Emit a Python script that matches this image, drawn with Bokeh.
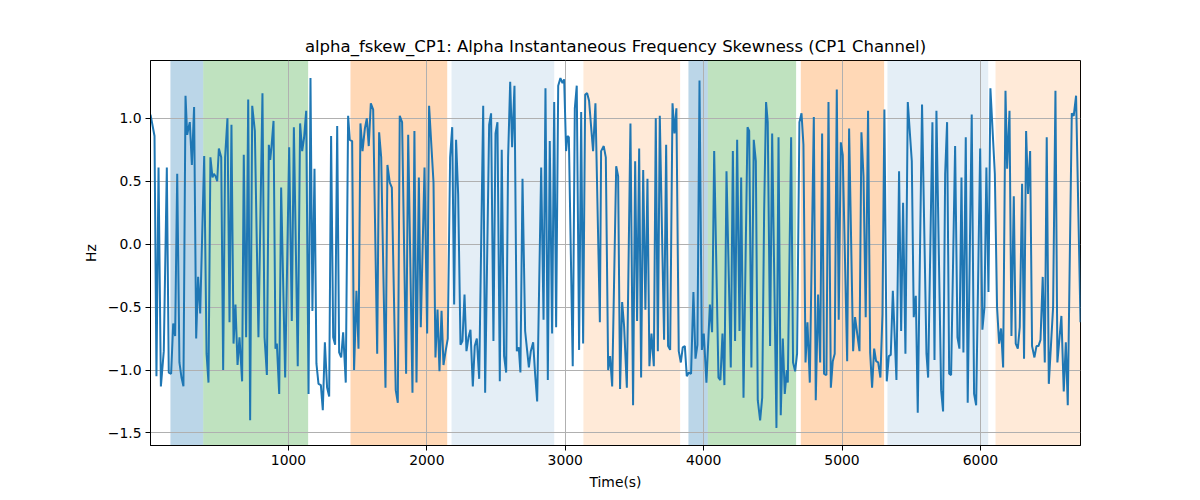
from bokeh.plotting import figure
from bokeh.models import ColumnDataSource, SingleIntervalTicker, CustomJSTickFormatter, Range1d
from bokeh.embed import file_html
from bokeh.resources import INLINE

TITLE = "alpha_fskew_CP1: Alpha Instantaneous Frequency Skewness (CP1 Channel)"
X_LABEL = "Time(s)"
Y_LABEL = "Hz"

time_s = [
    3, 32, 46, 61, 78, 99, 121, 135, 152, 167, 181, 196, 212, 227, 241, 256, 268, 277, 287, 302,
    318, 333, 347, 362, 391, 408, 422, 436, 451, 461, 473, 485, 497, 514, 528, 542, 559, 574, 588, 603,
    617, 632, 646, 665, 677,
    694, 709, 723, 738, 757, 783, 812, 827, 844, 858, 868, 877, 892, 906, 916, 933, 947, 976, 1005, 1024,
    1039, 1067, 1084, 1099, 1113, 1128, 1145, 1159, 1173, 1188, 1202, 1217, 1234, 1248, 1263, 1279, 1294, 1308, 1323, 1337,
    1352,
    1366, 1381, 1395, 1414, 1431, 1443, 1460, 1474, 1491, 1506, 1520, 1535, 1552, 1566, 1580, 1595, 1612, 1641, 1655, 1670,
    1701, 1715, 1732, 1747, 1775, 1790, 1804, 1821, 1850, 1865, 1896, 1910, 1925, 1942, 1956, 1983, 2002, 2016,
    2048, 2062, 2077, 2091, 2106, 2120, 2134, 2151, 2168, 2183, 2197, 2211, 2226, 2243, 2257, 2272, 2286, 2301, 2315, 2332,
    2346, 2361, 2378, 2407, 2421, 2450, 2464, 2481, 2496, 2510, 2527, 2541, 2558, 2573, 2587, 2602, 2616, 2633, 2650, 2664,
    2676, 2691,
    2710, 2725, 2737, 2751, 2768, 2782, 2797, 2826, 2843, 2857, 2874, 2888, 2905, 2920, 2934, 2949, 2965, 2980, 2992, 3006,
    3016, 3026, 3054, 3069, 3083, 3100, 3115, 3129, 3144, 3158, 3172, 3187, 3201, 3218, 3250, 3259, 3278, 3293, 3310, 3324,
    3339, 3368,
    3382, 3396, 3411, 3425, 3445, 3471, 3490, 3505, 3519, 3534, 3548, 3563, 3579, 3594, 3608, 3623, 3640, 3654, 3669, 3683,
    3714, 3729, 3743, 3758, 3775, 3789, 3803, 3820, 3835, 3849, 3864, 3878, 3893, 3909, 3926, 3941, 3955, 3970, 3987, 4001,
    4020, 4045,
    4061, 4076, 4107, 4121, 4136, 4150, 4165, 4196, 4211, 4227, 4242, 4259, 4271, 4288, 4317, 4329, 4345, 4362, 4377, 4391,
    4408, 4423, 4437, 4451, 4463, 4480, 4495, 4526, 4541, 4557, 4572, 4586, 4601, 4608, 4632, 4646, 4661, 4675, 4692, 4707,
    4721, 4736, 4750, 4767, 4796, 4810, 4827, 4842, 4856, 4870, 4887, 4902, 4919, 4933, 4947, 4962, 4976, 4991, 5005, 5037,
    5051, 5080, 5094, 5126, 5140, 5155, 5171, 5188, 5203, 5217, 5232, 5246, 5261, 5277, 5292, 5306, 5323, 5338, 5352, 5367,
    5393,
    5412, 5427, 5441, 5458, 5475, 5504, 5518, 5533, 5547, 5578, 5610, 5622, 5653, 5668, 5682, 5716, 5730, 5745, 5759, 5774,
    5788, 5817, 5834, 5848, 5863, 5877, 5894, 5908, 5937, 5954, 5969, 5998, 6014, 6029, 6043, 6058,
    6072, 6104, 6120, 6135, 6149, 6164, 6181, 6193, 6210, 6224, 6241, 6255, 6270, 6284, 6301, 6315, 6330, 6344, 6359, 6373,
    6390, 6405, 6419, 6434, 6450, 6465, 6479, 6494, 6525, 6542, 6556, 6585, 6602, 6617, 6631, 6660, 6674, 6691, 6723,
]

skew_hz = [
    1.03, 0.86, -1.05, 0.61, -1.13, -0.85, 0.61, -1.02, -1.03, -0.63, -0.73, 0.56, -0.94, -1.06, -1.13, 1.18, 0.87, 0.92, 0.97, 0.63,
    1.09, -0.75, -0.26, -0.55, 0.70, -0.87, -1.10, 0.69, 0.53, 0.56, 0.54, 0.50, 0.76, 0.69, -1.00, 0.69, 1.00, -0.62, 0.95, -0.79,
    -0.48, -0.96, -0.74, -1.09, 0.71,
    -0.74, 1.15, -1.40, 1.10, 0.90, -0.74, 1.20, -0.74, -1.04, 0.79, 0.67, 0.77, 0.98, -0.83, -0.79, -1.19, 0.45, -1.06, 0.77, -0.61,
    0.93, -0.97, 0.96, 0.74, 0.85, 1.06, -1.19, 1.32, -0.53, 0.60, -0.95, -1.11, -1.12, -1.32, -0.78, -1.14, -1.21, 0.86, -0.74, -0.80,
    0.94,
    -0.86, -0.90, -0.70, -1.10, 1.02, 0.83, 0.82, -1.00, -0.37, -0.83, 0.96, 0.74, 0.92, 1.00, 0.78, 1.12, 1.07, -0.87, 0.89, 0.69,
    -1.14, 0.63, 0.49, 0.45, -1.16, -1.26, 1.02, 0.97, -1.03, 0.87, -1.18, 0.90, -1.10, 0.53, -0.66, 0.61, -0.71, 1.10,
    0.49, -0.90, -0.52, -1.01, -0.53, -0.96, -0.86, -0.75, 0.69, 0.93, -0.48, 0.83, 0.40, -0.80, -0.77, -0.40, -0.85, -0.74, -0.68, -1.13,
    -0.81, -0.75, -1.07, 1.10, -1.18, 0.95, 1.04, -0.77, 0.88, 0.97, -1.09, 0.75, -0.89, -1.02, 0.69, 1.29, 0.77, 1.26, -0.85, -0.82,
    -1.02, 0.52,
    -0.69, -0.85, -0.98, -0.85, -0.78, -1.03, -1.25, 0.61, -0.60, 1.24, -1.08, 0.82, -0.71, 1.13, -0.66, 1.26, 1.32, 1.28, 1.31, 0.74,
    0.86, 0.85, -0.97, 1.08, 1.26, -0.84, 1.05, -0.79, 1.19, 1.20, 1.14, 0.93, 0.74, 1.12, -0.62, 0.74, 0.78, 0.69, -1.00, -0.89,
    -1.13, 0.62,
    0.54, -1.15, -0.46, -0.65, -1.14, 0.96, -1.28, 0.66, -0.61, 0.76, -1.06, 0.59, -0.52, 0.52, -0.97, -0.71, -0.97, 1.00, -0.85, 1.02,
    -0.76, 0.79, -0.81, -0.84, 1.12, 0.88, 1.08, -0.85, -0.94, -0.82, -0.81, -1.05, -1.02, -1.03, -0.38, -0.91, -0.80, 1.30, -0.84, -0.71,
    -1.10, -0.48,
    -0.70, 0.74, -1.06, -1.08, -0.71, -1.12, 0.58, -0.98, 0.74, -0.77, 0.83, -0.69, 0.53, -1.22, 0.93, 0.90, -0.98, 0.83, 0.66, -1.24,
    -1.40, -1.22, 0.26, 1.13, 0.97, -0.81, 0.88, -1.46, 0.85, -1.36, -0.75, -1.19, -1.00, -1.10, 0.85, -0.94, -1.01, -0.87, 0.97, 1.04,
    0.79, -0.94, -0.62, -1.10, 1.01, -1.24, -0.40, -0.94, 0.88, -1.03, -1.04, 1.13, -1.14, -0.93, -0.87, 1.23, -0.60, 0.81, 0.71, -0.93,
    0.92, -0.85, -0.58, -0.85, 0.89, 0.54, -0.58, 1.06, -0.86, -1.14, -0.83, -0.93, -0.94, -1.06, -0.56, 1.07, -1.09, -0.89, -0.88, -0.37,
    -1.08,
    0.58, -0.69, 0.33, -0.87, 1.13, 0.66, -0.58, -0.41, -1.34, 1.11, -0.87, -1.06, 0.97, -0.92, 1.06, -1.16, -1.33, 0.56, 0.97, -1.03,
    -1.04, 0.78, -0.74, -0.83, 0.53, -0.86, 0.85, -1.26, 1.03, -1.19, -1.28, 0.76, -0.68, -0.50, 0.61, -0.38,
    1.24, 0.56, -0.50, -0.79, -0.67, -0.98, 1.22, 0.60, 1.06, -0.73, 0.38, -0.79, -0.83, -0.66, 0.48, -0.91, 0.90, 0.40, 0.74, -0.81,
    -0.90, -0.81, -0.81, -0.76, -0.26, -0.94, 0.85, -1.11, -0.50, 1.22, -0.94, -0.57, -1.17, -0.78, -1.28, 1.04, 1.02, 1.18, -0.62,
]

# shaded stage intervals (seconds)
band_start = [147, 384, 1448, 2178, 3131, 3890, 4030, 4702, 5328, 6109]
band_end = [384, 1142, 2147, 2920, 3830, 4030, 4668, 5304, 6056, 6723]
band_kind = ["blue", "green", "orange", "pale_blue", "pale_orange",
             "blue", "green", "orange", "pale_blue", "pale_orange"]

KIND_COLOR = {"blue": "#1f77b4", "green": "#2ca02c", "orange": "#ff7f0e",
              "pale_blue": "#1f77b4", "pale_orange": "#ff7f0e"}
KIND_ALPHA = {"blue": 0.3, "green": 0.3, "orange": 0.3,
              "pale_blue": 0.12, "pale_orange": 0.16}

Y_LO, Y_HI = -1.60, 1.46
FONT = "DejaVu Sans"

p = figure(frame_width=930, frame_height=385,
           min_border_left=150, min_border_right=104,
           min_border_top=60, min_border_bottom=45,
           x_range=Range1d(time_s[0], time_s[-1]),
           y_range=Range1d(Y_LO, Y_HI),
           output_backend="svg", toolbar_location=None,
           background_fill_color="white", border_fill_color="white")

band_src = ColumnDataSource(dict(
    left=band_start, right=band_end,
    bottom=[Y_LO] * len(band_start), top=[Y_HI] * len(band_start),
    color=[KIND_COLOR[k] for k in band_kind],
    alpha=[KIND_ALPHA[k] for k in band_kind],
))
p.quad(left="left", right="right", bottom="bottom", top="top", source=band_src,
       fill_color="color", fill_alpha="alpha", line_color=None, level="image")

line_src = ColumnDataSource(dict(t=time_s, v=skew_hz))
p.line("t", "v", source=line_src, line_color="#1f77b4", line_width=2)

# title
p.title.text = TITLE
p.title.align = "center"
p.title.text_font = FONT
p.title.text_font_size = "16.5px"
p.title.text_font_style = "normal"
p.title.text_color = "black"

# axes
p.xaxis.ticker = SingleIntervalTicker(interval=1000, num_minor_ticks=0)
p.yaxis.ticker = SingleIntervalTicker(interval=0.5, num_minor_ticks=0)
p.yaxis.formatter = CustomJSTickFormatter(code="return tick.toFixed(1).replace('-', '\u2212');")
p.xaxis.axis_label = X_LABEL
p.yaxis.axis_label = Y_LABEL
for ax in (p.xaxis, p.yaxis):
    ax.axis_label_text_font = FONT
    ax.axis_label_text_font_size = "13.9px"
    ax.axis_label_text_font_style = "normal"
    ax.axis_label_text_color = "black"
    ax.axis_label_standoff = 6
    ax.major_label_text_font = FONT
    ax.major_label_text_font_size = "13.9px"
    ax.major_label_text_color = "black"
    ax.major_label_standoff = 4
    ax.major_tick_in = 0
    ax.major_tick_out = 5
    ax.major_tick_line_color = "black"
    ax.minor_tick_line_color = None
    ax.axis_line_color = "black"

p.outline_line_color = "black"
p.outline_line_width = 1
p.outline_line_alpha = 1

p.xgrid.grid_line_color = "#b0b0b0"
p.ygrid.grid_line_color = "#b0b0b0"
p.xgrid.grid_line_width = 1
p.ygrid.grid_line_width = 1

open("out.html", "w").write(file_html(p, INLINE))
